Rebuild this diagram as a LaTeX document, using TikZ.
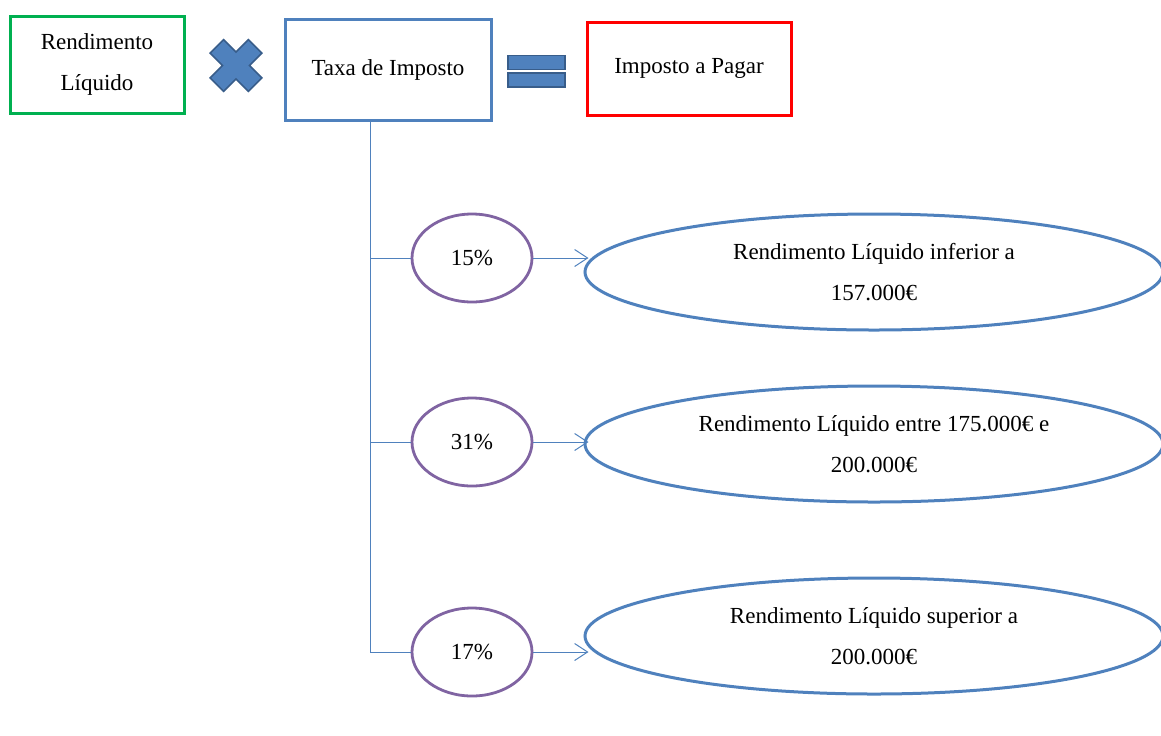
\documentclass[tikz,border=0pt]{standalone}
\usepackage{fontspec}
\setmainfont{Liberation Serif}
\usetikzlibrary{shapes, positioning, arrows.meta}
\definecolor{boxgreen}{RGB}{0,176,80}
\definecolor{boxblue}{RGB}{79,129,189}
\definecolor{boxred}{RGB}{255,0,0}
\definecolor{ratepurple}{RGB}{128,100,162}
\definecolor{symedge}{RGB}{56,93,138}
\tikzset{
  box/.style={draw, rectangle, line width=1.5pt, align=center, font=\fontsize{11.5}{20.5}\selectfont},
  rate/.style={draw=ratepurple, ellipse, line width=1.4pt, minimum width=60pt, minimum height=44pt, font=\fontsize{11.5}{14}\selectfont},
  rangebox/.style={draw=boxblue, ellipse, line width=1.5pt, minimum width=289pt, minimum height=58pt, align=center, font=\fontsize{11.5}{20.5}\selectfont},
  link/.style={draw=boxblue, line width=0.5pt},
  sym/.style={fill=boxblue, draw=symedge, line width=0.8pt}
}
\begin{document}
\begin{tikzpicture}[x=0.5pt, y=-0.5pt]
  \useasboundingbox (0,0) rectangle (1161,735);
  \node[box, draw=boxgreen, minimum width=87pt, minimum height=48.5pt] (rl) at (97,64.5) {Rendimento\\Líquido};
  \node[box, draw=boxblue, minimum width=103pt, minimum height=50.5pt] (taxa) at (388,69.5) {Taxa de Imposto};
  \node[box, draw=boxred, minimum width=102pt, minimum height=46.5pt] (imp) at (689,68.5) {Imposto a Pagar};
  % multiply and equals signs
  \begin{scope}[shift={(236,65.5)}, rotate=45]
    \draw[sym] (9.5,27) -- (9.5,9.5) -- (27,9.5) -- (27,-9.5) -- (9.5,-9.5) -- (9.5,-27)
      -- (-9.5,-27) -- (-9.5,-9.5) -- (-27,-9.5) -- (-27,9.5) -- (-9.5,9.5) -- (-9.5,27) -- cycle;
  \end{scope}
  \draw[sym] (508,55.5) rectangle (565,69.5);
  \draw[sym] (508,73) rectangle (565,87);
  \coordinate (t0) at (370,120);
  \foreach \i/\y/\ey/\p/\t in {1/258/272/15\%/{Rendimento Líquido inferior a\\157.000€},
      2/442/444/31\%/{Rendimento Líquido entre 175.000€ e\\200.000€},
      3/652/636/17\%/{Rendimento Líquido superior a\\200.000€}}{
    \node[rate] (c\i) at (472,\y) {\p};
    \node[rangebox] (e\i) at (874,\ey) {\t};
    \draw[link] (t0) |- (c\i.west);
    \draw[link, -{Straight Barb[length=6.5pt, width=8.5pt]}] (c\i.east) -- ([xshift=2.5pt]c\i.east -| e\i.west);
  }
\end{tikzpicture}
\end{document}
